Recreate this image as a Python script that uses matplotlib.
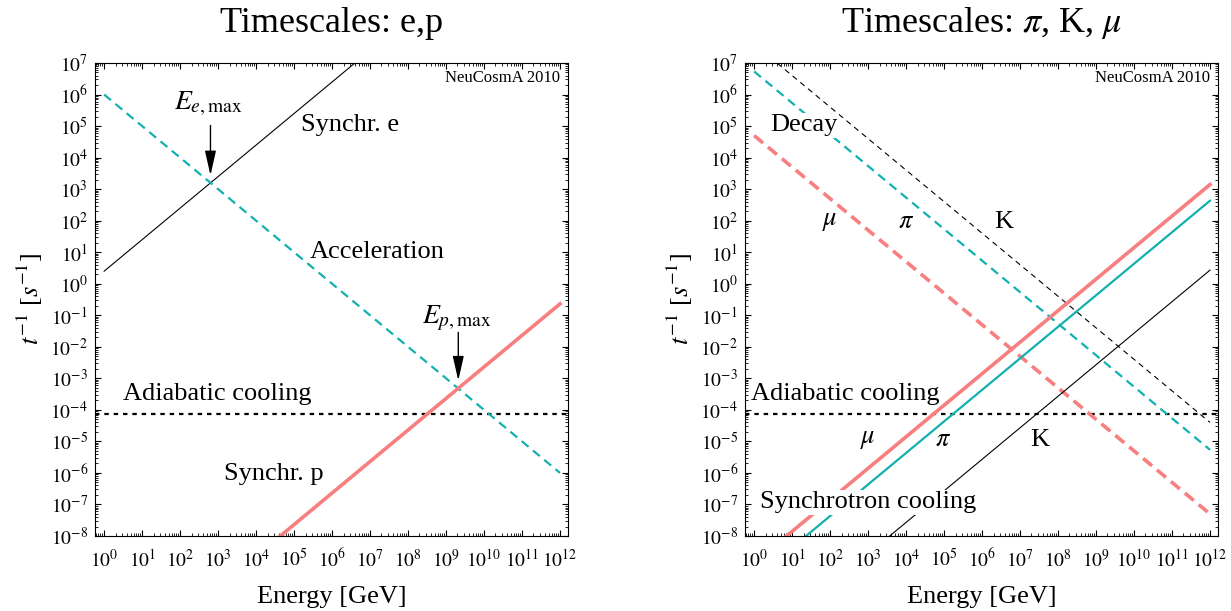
import numpy as np
import matplotlib
matplotlib.use("Agg")
import matplotlib.pyplot as plt
from matplotlib.ticker import LogLocator, NullFormatter

plt.rcParams['font.family'] = 'serif'
plt.rcParams['font.serif'] = ['Liberation Serif', 'DejaVu Serif']
plt.rcParams['mathtext.fontset'] = 'stix'

# tick decades shown on the axes
x_decades = list(range(0, 13))
y_decades = list(range(-8, 8))

# energy end points of every line [GeV]
E_ends = [1e0, 1e12]

# left panel: e, p (inverse timescales in 1/s at E_ends)
rate_synch_e = [2.5e0, 2.5e12]
rate_accel = [1e6, 1e-6]
rate_synch_p = [2.3e-13, 2.3e-1]
rate_adiabatic = 7.5e-5

# right panel: pi, K, mu
rate_decay_mu = [5e4, 5e-8]
rate_decay_pi = [5.4e6, 5.4e-6]
rate_decay_K = [4e7, 4e-5]
rate_synch_mu = [1.4e-9, 1.4e3]
rate_synch_pi = [4.3e-10, 4.3e2]
rate_synch_K = [2.7e-12, 2.7e0]

# crossing points marked with arrows
E_e_max = 6.3e2
E_p_max = 2.1e9

teal = '#12b0b0'
salmon = '#f77f7f'

fig = plt.figure(figsize=(12.31, 6.11), dpi=100)
ax1 = fig.add_axes([95/1231, 75/611, 473/1231, 473/611])
ax2 = fig.add_axes([745/1231, 75/611, 473/1231, 473/611])


def style_axes(ax, title):
    ax.set_xscale('log')
    ax.set_yscale('log')
    ax.set_xticks([10.0**d for d in x_decades],
                  [r'$10^{%d}$' % d for d in x_decades])
    ax.set_yticks([10.0**d for d in y_decades],
                  [r'$10^{%d}$' % d for d in y_decades])
    ax.xaxis.set_minor_locator(LogLocator(base=10, subs=np.arange(2, 10), numticks=100))
    ax.yaxis.set_minor_locator(LogLocator(base=10, subs=np.arange(2, 10), numticks=100))
    ax.xaxis.set_minor_formatter(NullFormatter())
    ax.yaxis.set_minor_formatter(NullFormatter())
    ax.set_xlim(10**-0.24, 10**12.21)
    ax.set_ylim(1e-8, 1e7)
    ax.tick_params(which='both', direction='in', top=True, right=True, labelsize=14)
    ax.tick_params(which='major', length=4, width=0.8)
    ax.tick_params(which='minor', length=2, width=0.6)
    ax.tick_params(axis='x', which='major', pad=9)
    ax.tick_params(axis='y', which='major', pad=5)
    ax.set_xlabel('Energy [GeV]', fontsize=19, labelpad=11)
    ax.set_ylabel(r'$t^{-1}$ [$s^{-1}$]', fontsize=19, labelpad=4)
    ax.set_title(title, fontsize=26, pad=22)
    ax.text(0.983, 0.968, 'NeuCosmA 2010', transform=ax.transAxes,
            ha='right', va='center', fontsize=12)
    ax.axhline(rate_adiabatic, color='k', lw=1.6, ls=(0, (2, 2.2)))
    ax.text(10**-0.09 if ax is ax2 else 10**0.5, 10**-3.49, 'Adiabatic cooling',
            ha='left', va='center', fontsize=19)


# ---- left panel ----
style_axes(ax1, 'Timescales: e,p')
ax1.plot(E_ends, rate_synch_e, color='k', lw=0.8)
ax1.plot(E_ends, rate_accel, color=teal, lw=1.6, ls=(0, (4, 2.6)))
ax1.plot(E_ends, rate_synch_p, color=salmon, lw=2.6)

ax1.text(10**6.47, 10**5.02, 'Synchr. e', ha='center', va='center', fontsize=19)
ax1.text(10**7.2, 10**1.0, 'Acceleration', ha='center', va='center', fontsize=19)
ax1.text(10**4.47, 10**-6.03, 'Synchr. p', ha='center', va='center', fontsize=19)

ax1.annotate('', xy=(E_e_max, 10**3.44), xytext=(E_e_max, 10**5.02),
             arrowprops=dict(arrowstyle='-|>,head_length=0.75,head_width=0.17',
                             color='k', lw=1, mutation_scale=20, shrinkA=0, shrinkB=0))
ax1.text(10**2.74, 10**5.71, r'$E_{e,\mathrm{max}}$', ha='center', va='center', fontsize=20)
ax1.annotate('', xy=(E_p_max, 10**-3.07), xytext=(E_p_max, 10**-1.54),
             arrowprops=dict(arrowstyle='-|>,head_length=0.75,head_width=0.17',
                             color='k', lw=1, mutation_scale=20, shrinkA=0, shrinkB=0))
ax1.text(10**9.28, 10**-1.1, r'$E_{p,\mathrm{max}}$', ha='center', va='center', fontsize=20)

# ---- right panel ----
style_axes(ax2, r'Timescales: $\pi$, K, $\mu$')
ax2.plot(E_ends, rate_decay_K, color='k', lw=0.8, ls=(0, (5, 4)))
ax2.plot(E_ends, rate_decay_pi, color=teal, lw=1.6, ls=(0, (4, 2.6)))
ax2.plot(E_ends, rate_decay_mu, color=salmon, lw=2.6, ls=(0, (3.2, 1.8)))
ax2.plot(E_ends, rate_synch_K, color='k', lw=0.8)
ax2.plot(E_ends, rate_synch_pi, color=teal, lw=1.6)
ax2.plot(E_ends, rate_synch_mu, color=salmon, lw=2.6)

box = dict(facecolor='white', edgecolor='none', pad=1)
ax2.text(10**1.3, 10**5.02, 'Decay', ha='center', va='center', fontsize=19,
         bbox=box, zorder=5)
ax2.text(10**3.0, 10**-6.93, 'Synchrotron cooling', ha='center', va='center',
         fontsize=19, bbox=box, zorder=5)
for x, lab in [(2.0, r'$\mu$'), (4.0, r'$\pi$'), (6.56, 'K')]:
    ax2.text(10**x, 10**1.95, lab, ha='center', va='center', fontsize=19)
for x, lab in [(2.98, r'$\mu$'), (4.98, r'$\pi$'), (7.53, 'K')]:
    ax2.text(10**x, 10**-4.95, lab, ha='center', va='center', fontsize=19)

fig.savefig('out.png', dpi=100)
